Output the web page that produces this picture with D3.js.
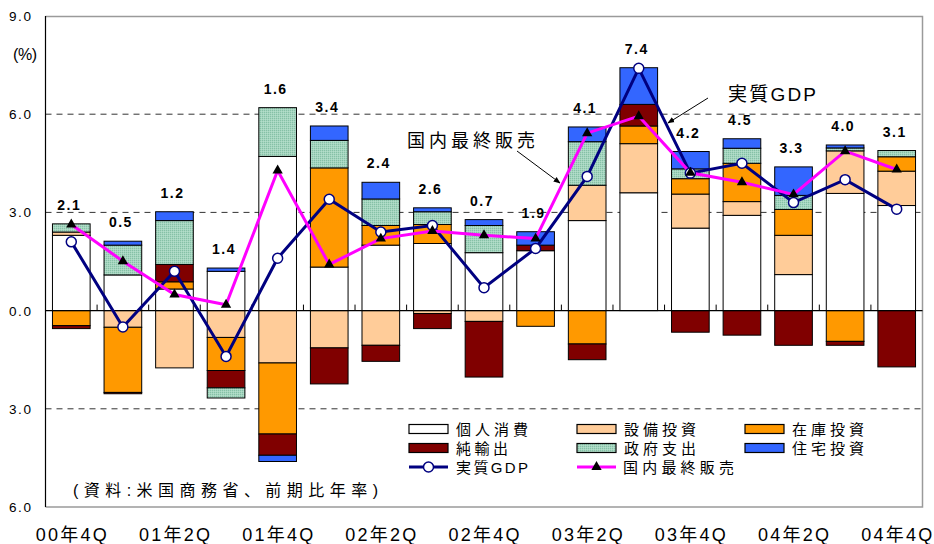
<!DOCTYPE html>
<html><head><meta charset="utf-8">
<script src="https://cdn.jsdelivr.net/npm/d3@7"></script>
<style>body{margin:0;background:#fff}svg{display:block}</style>
</head><body><svg id="c" width="934" height="544"></svg>
<script>
// ---- data ----
const quarters = ["00年4Q","01年1Q","01年2Q","01年3Q","01年4Q","02年1Q","02年2Q","02年3Q","02年4Q","03年1Q","03年2Q","03年3Q","03年4Q","04年1Q","04年2Q","04年3Q","04年4Q"];
const xTickLabels = ["00年4Q","01年2Q","01年4Q","02年2Q","02年4Q","03年2Q","03年4Q","04年2Q","04年4Q"];
const yTicks = [9, 6, 3, 0, -3, -6];
const seriesNames = ["個人消費","設備投資","在庫投資","純輸出","政府支出","住宅投資"];
const personal   = [2.30,1.09,0.66,1.20,4.71,1.33,2.00,2.05,1.77,1.83,2.75,3.60,2.52,2.91,1.10,3.58,3.21];
const equipment  = [0.10,-0.51,-1.75,-0.82,-1.60,-1.14,-1.06,-0.09,-0.33,0.00,1.08,1.50,1.04,0.42,1.20,1.30,1.05];
const inventory  = [-0.46,-1.99,0.22,-1.01,-2.17,3.03,0.60,0.58,0.00,-0.48,-1.02,0.54,0.47,1.17,0.79,-0.94,0.44];
const netExports = [-0.09,-0.04,0.53,-0.53,-0.65,-1.10,-0.49,-0.46,-1.70,0.17,-0.48,0.66,-0.66,-0.75,-1.06,-0.12,-1.72];
const government = [0.25,0.91,1.34,-0.31,1.49,0.84,0.81,0.39,0.83,0.00,1.33,0.00,0.30,0.46,0.43,0.09,0.19];
const housing    = [0.00,0.12,0.27,0.10,-0.19,0.44,0.51,0.12,0.18,0.41,0.45,1.12,0.53,0.29,0.87,0.09,0.00];
const realGDP    = [2.1,-0.5,1.2,-1.4,1.6,3.4,2.4,2.6,0.7,1.9,4.1,7.4,4.2,4.5,3.3,4.0,3.1];
const finalSales = [2.63,1.51,0.49,0.18,4.28,1.41,2.20,2.43,2.30,2.20,5.42,5.94,4.21,3.92,3.55,4.87,4.31];

// ---- setup ----
const FONT = '"Liberation Sans", Arial, "Noto Sans CJK JP", sans-serif';
const svg = d3.select("#c");
svg.append("rect").attr("width",934).attr("height",544).attr("fill","#fff");
const defs = svg.append("defs");
const pat = defs.append("pattern").attr("id","hatch").attr("patternUnits","userSpaceOnUse")
  .attr("width",2).attr("height",2);
pat.append("rect").attr("width",2).attr("height",2).attr("fill","#a4d5bf");
pat.append("rect").attr("width",1).attr("height",1).attr("fill","#86c0a6");
pat.append("rect").attr("x",1).attr("y",1).attr("width",1).attr("height",1).attr("fill","#b4ddca");
defs.append("marker").attr("id","arrow").attr("viewBox","0 0 10 10").attr("refX",9).attr("refY",5)
  .attr("markerWidth",7).attr("markerHeight",7).attr("orient","auto")
  .append("path").attr("d","M0,1 L10,5 L0,9 Z").attr("fill","#000");

const colors = ["#ffffff","#ffcc99","#ff9900","#800000","url(#hatch)","#3366ff"];

const x = d3.scaleBand().domain(quarters).range([45.5, 922.5]).paddingInner(0.27).paddingOuter(0.135);
const y = d3.scaleLinear().domain([-6, 9]).range([507, 16]);

const table = quarters.map((q,i)=>({q,
  "個人消費":personal[i],"設備投資":equipment[i],"在庫投資":inventory[i],
  "純輸出":netExports[i],"政府支出":government[i],"住宅投資":housing[i]}));
const stacked = d3.stack().keys(seriesNames).offset(d3.stackOffsetDiverging)(table);

// grid lines
svg.append("g").selectAll("line").data([6,3,-3]).join("line")
  .attr("x1",45.5).attr("x2",922.5).attr("y1",d=>y(d)).attr("y2",d=>y(d))
  .attr("stroke","#333").attr("stroke-width",1).attr("stroke-dasharray","6,5");

// frame
svg.append("path").attr("d",`M45.5,16.5 H922.5 V507 H45.5`).attr("fill","none")
  .attr("stroke","#9a9a9a").attr("stroke-width",1.5);
svg.append("line").attr("x1",45.5).attr("x2",45.5).attr("y1",16).attr("y2",507)
  .attr("stroke","#000").attr("stroke-width",1.2);

// bars
const gb = svg.append("g");
stacked.forEach((s,k)=>{
  gb.append("g").selectAll("rect").data(s.filter(d=>d[1]!==d[0])).join("rect")
    .attr("x",d=>x(d.data.q)).attr("width",x.bandwidth())
    .attr("y",d=>y(Math.max(d[0],d[1]))).attr("height",d=>Math.abs(y(d[0])-y(d[1])))
    .attr("fill",colors[k]).attr("stroke","#000").attr("stroke-width",1);
});

// zero line and ticks
const zy = y(0);
svg.append("line").attr("x1",45.5).attr("x2",922.5).attr("y1",zy).attr("y2",zy)
  .attr("stroke","#000").attr("stroke-width",1.2);
svg.append("g").selectAll("line").data(d3.range(1, quarters.length)).join("line")
  .attr("x1",i=>45.5+i*x.step()).attr("x2",i=>45.5+i*x.step())
  .attr("y1",zy).attr("y2",zy-6).attr("stroke","#000").attr("stroke-width",1);

// lines
const cx = q=>x(q)+x.bandwidth()/2;
const lineGen = d3.line().x(d=>cx(d.q)).y(d=>y(d.v));
const gdpPts = quarters.map((q,i)=>({q,v:realGDP[i]}));
const fsPts = quarters.map((q,i)=>({q,v:finalSales[i]}));
svg.append("path").attr("d",lineGen(gdpPts)).attr("fill","none").attr("stroke","#000080").attr("stroke-width",3);
svg.append("path").attr("d",lineGen(fsPts)).attr("fill","none").attr("stroke","#ff00ff").attr("stroke-width",3);
svg.append("g").selectAll("circle").data(gdpPts).join("circle")
  .attr("cx",d=>cx(d.q)).attr("cy",d=>y(d.v)).attr("r",5)
  .attr("fill","#fff").attr("stroke","#000080").attr("stroke-width",1.5);
const tri = d3.symbol(d3.symbolTriangle, 46);
svg.append("g").selectAll("path").data(fsPts).join("path")
  .attr("d",tri).attr("transform",d=>`translate(${cx(d.q)},${y(d.v)})`).attr("fill","#000");

// value labels above bars
const posTop = quarters.map((q,i)=>d3.max(stacked, s=>Math.max(s[i][0], s[i][1])));
svg.append("g").selectAll("text").data(quarters).join("text")
  .attr("x",q=>cx(q)-2).attr("y",(q,i)=>y(posTop[i])-14)
  .attr("text-anchor","middle").attr("font-family",FONT).attr("font-weight","bold")
  .attr("font-size",14).attr("letter-spacing","1.5px")
  .text((q,i)=>Math.abs(realGDP[i]).toFixed(1));

// y labels
svg.append("g").selectAll("text").data(yTicks).join("text")
  .attr("x",31).attr("y",d=>y(d)+5).attr("text-anchor","end")
  .attr("font-family",FONT).attr("font-size",13.5).attr("textLength",22).attr("lengthAdjust","spacing")
  .attr("fill","#000").text(d=>Math.abs(d).toFixed(1));
svg.append("text").attr("x",13).attr("y",60).attr("font-family",FONT).attr("font-size",16)
  .attr("textLength",24).attr("lengthAdjust","spacing").text("(%)");

// x labels
svg.append("g").selectAll("text").data(xTickLabels).join("text")
  .attr("x",d=>cx(d)).attr("y",541).attr("text-anchor","middle")
  .attr("font-family",FONT).attr("font-size",18).attr("textLength",71).attr("lengthAdjust","spacing")
  .text(d=>d);

// legend
const legendItems = [
  {name:"個人消費", k:0, col:0,row:0, w:72},
  {name:"設備投資", k:1, col:1,row:0, w:72},
  {name:"在庫投資", k:2, col:2,row:0, w:72},
  {name:"純輸出",   k:3, col:0,row:1, w:52},
  {name:"政府支出", k:4, col:1,row:1, w:72},
  {name:"住宅投資", k:5, col:2,row:1, w:72}
];
const colX = [409, 577, 745];
const rowY = [429, 448, 467];
const gl = svg.append("g");
legendItems.forEach(it=>{
  gl.append("rect").attr("x",colX[it.col]).attr("y",rowY[it.row]-4.5).attr("width",39).attr("height",9)
    .attr("fill",colors[it.k]).attr("stroke","#000").attr("stroke-width",1.2);
  gl.append("text").attr("x",colX[it.col]+47).attr("y",rowY[it.row]+6).attr("font-family",FONT)
    .attr("font-size",15).attr("textLength",it.w).attr("lengthAdjust","spacing").text(it.name);
});
// line legends
gl.append("line").attr("x1",colX[0]).attr("x2",colX[0]+39).attr("y1",rowY[2]).attr("y2",rowY[2])
  .attr("stroke","#000080").attr("stroke-width",3);
gl.append("circle").attr("cx",colX[0]+19.5).attr("cy",rowY[2]).attr("r",5)
  .attr("fill","#fff").attr("stroke","#000080").attr("stroke-width",1.5);
gl.append("text").attr("x",colX[0]+47).attr("y",rowY[2]+6).attr("font-family",FONT)
  .attr("font-size",15).attr("textLength",72).attr("lengthAdjust","spacing").text("実質GDP");
gl.append("line").attr("x1",colX[1]).attr("x2",colX[1]+39).attr("y1",rowY[2]).attr("y2",rowY[2])
  .attr("stroke","#ff00ff").attr("stroke-width",3);
gl.append("path").attr("d",tri).attr("transform",`translate(${colX[1]+19.5},${rowY[2]})`).attr("fill","#000");
gl.append("text").attr("x",colX[1]+46).attr("y",rowY[2]+6).attr("font-family",FONT)
  .attr("font-size",15).attr("textLength",111).attr("lengthAdjust","spacing").text("国内最終販売");

// source
svg.append("text").attr("x",73).attr("y",496).attr("font-family",FONT).attr("font-size",16)
  .attr("textLength",305).attr("lengthAdjust","spacing").text("(資料:米国商務省、前期比年率)");

// annotations
svg.append("text").attr("x",407).attr("y",147).attr("font-family",FONT).attr("font-size",18)
  .attr("textLength",128).attr("lengthAdjust","spacing").text("国内最終販売");
svg.append("line").attr("x1",517).attr("y1",151).attr("x2",560).attr("y2",183)
  .attr("stroke","#000").attr("stroke-width",1).attr("marker-end","url(#arrow)");
svg.append("text").attr("x",728).attr("y",101).attr("font-family",FONT).attr("font-size",19)
  .attr("textLength",88).attr("lengthAdjust","spacing").text("実質GDP");
svg.append("line").attr("x1",708).attr("y1",98).attr("x2",668).attr("y2",123)
  .attr("stroke","#000").attr("stroke-width",1).attr("marker-end","url(#arrow)");
</script></body></html>
